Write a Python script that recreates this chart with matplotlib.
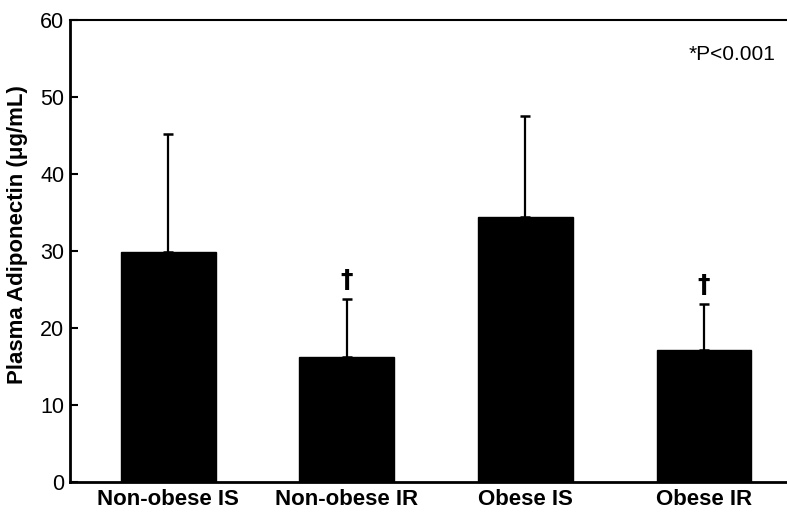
import matplotlib
matplotlib.use("Agg")
import matplotlib.pyplot as plt

categories = ["Non-obese IS", "Non-obese IR", "Obese IS", "Obese IR"]
means = [29.9, 16.2, 34.4, 17.1]
errors = [15.3, 7.6, 13.1, 6.0]
dagger = [False, True, False, True]
y_ticks = [0, 10, 20, 30, 40, 50, 60]

plt.rcParams['font.family'] = ['Liberation Sans', 'DejaVu Sans']

fig = plt.figure(figsize=(7.87, 5.12), dpi=100)
ax = fig.add_axes([70/787, 30/512, 716/787, 462/512])

x = list(range(len(categories)))
ax.bar(x, means, width=0.53, color='black', edgecolor='black', zorder=2)
ax.errorbar(x, means, yerr=[[0]*len(errors), errors], fmt='none', ecolor='black',
            elinewidth=1.6, capsize=3.5, capthick=1.8, zorder=1)
for xi, m, e, d in zip(x, means, errors, dagger):
    if d:
        ax.text(xi, m + e + 0.9, "\u2020", ha='center', va='bottom', fontsize=18,
                fontweight='bold', family=['DejaVu Sans'])

ax.set_xlim(-0.55, 3.46)
ax.set_ylim(0, 60)
ax.set_yticks(y_ticks)
ax.set_yticklabels([str(t) for t in y_ticks], fontsize=15.5)
ax.set_xticks(x)
ax.set_xticklabels(categories, fontsize=16, fontweight='bold')
ax.tick_params(axis='x', length=0, pad=5)
ax.tick_params(axis='y', direction='in', length=6, width=1.5, pad=4)
ax.set_ylabel("Plasma Adiponectin (\u03bcg/mL)", fontsize=16, fontweight='bold')
ax.yaxis.set_label_coords(-0.058, 0.535)

ax.spines['right'].set_visible(False)
for s in ['left', 'bottom']:
    ax.spines[s].set_linewidth(2)
ax.spines['top'].set_linewidth(1.5)

ax.text(0.985, 0.925, "*P<0.001", transform=ax.transAxes, ha='right', va='center', fontsize=15)

fig.savefig("out.png", dpi=100)
